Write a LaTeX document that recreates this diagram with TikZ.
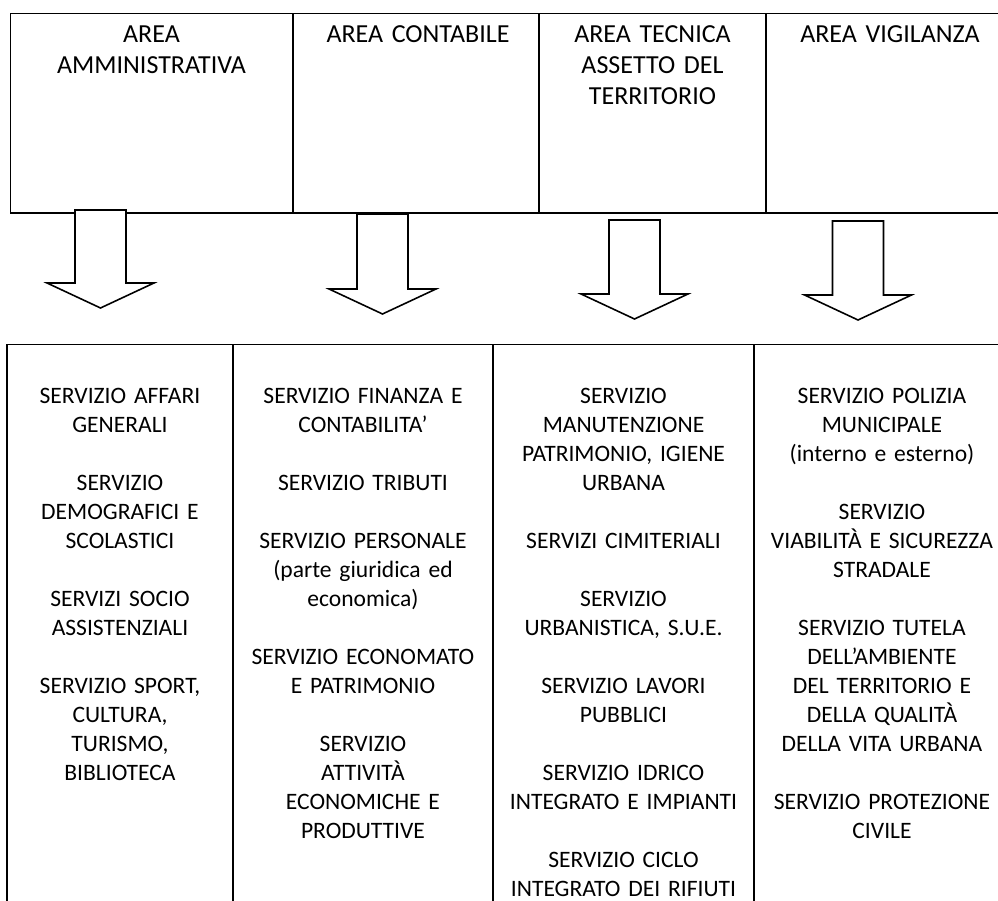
\documentclass[tikz,border=0pt]{standalone}
\usepackage{fontspec}
\setmainfont{Carlito}
\pgfdeclarelayer{edgelayer}
\pgfdeclarelayer{nodelayer}
\pgfsetlayers{edgelayer,nodelayer,main}
\tikzstyle{area}=[text width=4.8cm,align=center,inner sep=0pt,anchor=base,font=\fontsize{14.8pt}{17.6pt}\selectfont]
\tikzstyle{servizi}=[text width=4.8cm,align=center,inner sep=0pt,anchor=base,font=\fontsize{13.4pt}{16.5pt}\selectfont]
\tikzstyle{griglia}=[draw=black,line width=0.9pt]
\tikzstyle{freccione}=[draw=black,fill=white,line width=0.9pt,line join=miter]
\newcommand{\salto}{\\[\baselineskip]}
% #1 = centre, #2 = top of the shaft, #3 = tip
\newcommand{\freccia}[3]{%
  \draw [style=freccione] (#1-25.5,#2) -- (#1+25.5,#2) -- (#1+25.5,#3-25) -- (#1+53.5,#3-25)
    -- (#1,#3) -- (#1-53.5,#3-25) -- (#1-25.5,#3-25) -- cycle;}

\begin{document}
\begin{tikzpicture}[x=0.02cm,y=-0.02cm]
	\useasboundingbox (0,0) rectangle (998,901);
	\begin{pgfonlayer}{nodelayer}
		\node [style=area] (0) at (151.5,42.5) {AREA\\AMMINISTRATIVA};
		\node [style=area] (1) at (418,42.5) {AREA CONTABILE};
		\node [style=area] (2) at (652.5,43) {AREA TECNICA\\ASSETTO DEL\\TERRITORIO};
		\node [style=area] (3) at (890,43) {AREA VIGILANZA};
		\node [style=servizi] (4) at (120,403.5) {SERVIZIO AFFARI\\GENERALI\salto
			SERVIZIO\\DEMOGRAFICI E\\SCOLASTICI\salto
			SERVIZI SOCIO\\ASSISTENZIALI\salto
			SERVIZIO SPORT,\\CULTURA,\\TURISMO,\\BIBLIOTECA};
		\node [style=servizi] (5) at (363,403.5) {SERVIZIO FINANZA E\\CONTABILITA’\salto
			SERVIZIO TRIBUTI\salto
			SERVIZIO PERSONALE\\(parte giuridica ed\\economica)\salto
			SERVIZIO ECONOMATO\\E PATRIMONIO\salto
			SERVIZIO\\ATTIVITÀ\\ECONOMICHE E\\PRODUTTIVE};
		\node [style=servizi] (6) at (623.5,403.5) {SERVIZIO\\MANUTENZIONE\\PATRIMONIO, IGIENE\\URBANA\salto
			SERVIZI CIMITERIALI\salto
			SERVIZIO\\URBANISTICA, S.U.E.\salto
			SERVIZIO LAVORI\\PUBBLICI\salto
			SERVIZIO IDRICO\\INTEGRATO E IMPIANTI\salto
			SERVIZIO CICLO\\INTEGRATO DEI RIFIUTI};
		\node [style=servizi] (7) at (882,403.5) {SERVIZIO POLIZIA\\MUNICIPALE\\(interno e esterno)\salto
			SERVIZIO\\VIABILITÀ E SICUREZZA\\STRADALE\salto
			SERVIZIO TUTELA\\DELL’AMBIENTE\\DEL TERRITORIO E\\DELLA QUALITÀ\\DELLA VITA URBANA\salto
			SERVIZIO PROTEZIONE\\CIVILE};
	\end{pgfonlayer}
	\begin{pgfonlayer}{edgelayer}
		% aree
		\draw [style=griglia] (998,13.5) -- (10.5,13.5) -- (10.5,213) -- (998,213);
		\foreach \x in {293,539,766}
			\draw [style=griglia] (\x,13.5) -- (\x,213);
		% servizi
		\draw [style=griglia] (998,344.5) -- (7,344.5) -- (7,901);
		\foreach \x in {233,493,754}
			\draw [style=griglia] (\x,344.5) -- (\x,901);
		\freccia{100.5}{210}{308}
		\freccia{382.5}{214}{314}
		\freccia{634.5}{220}{319}
		\freccia{858}{221}{320}
	\end{pgfonlayer}
\end{tikzpicture}
\end{document}
